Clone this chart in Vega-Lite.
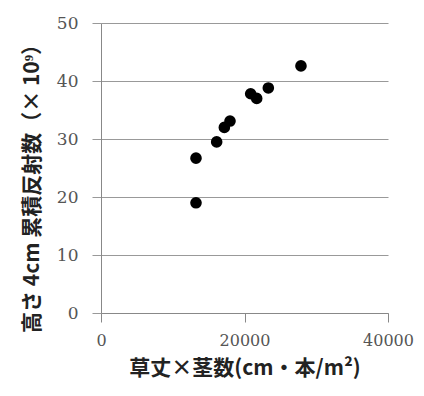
{
  "$schema": "https://vega.github.io/schema/vega-lite/v6.json",
  "width": 287,
  "height": 290,
  "autosize": {"type": "none"},
  "padding": {"left": 101, "top": 23, "right": 36, "bottom": 83},
  "background": "white",
  "config": {"view": {"stroke": null}},
  "data": {
    "values": [
      {"x": 13240, "y": 19.0},
      {"x": 13240, "y": 26.7},
      {"x": 16120, "y": 29.5},
      {"x": 17190, "y": 32.0},
      {"x": 17980, "y": 33.1},
      {"x": 20860, "y": 37.8},
      {"x": 21700, "y": 37.0},
      {"x": 23320, "y": 38.8},
      {"x": 27870, "y": 42.6}
    ]
  },
  "mark": {"type": "point", "filled": true, "color": "black", "opacity": 1, "size": 135},
  "encoding": {
    "x": {
      "field": "x", "type": "quantitative",
      "scale": {"domain": [0, 40000], "nice": false},
      "axis": {
        "values": [0, 20000, 40000], "grid": false, "format": "d",
        "title": "草丈×茎数(cm・本/m²)",
        "titleFont": "Noto Sans CJK JP", "titleFontSize": 21, "titleFontWeight": "bold", "titleColor": "#222",
        "titlePadding": 9,
        "labelFont": "DejaVu Serif", "labelFontSize": 16, "labelColor": "#555", "labelPadding": 10,
        "labelFlush": false,
        "domainColor": "#888", "tickColor": "#888", "tickSize": 9
      }
    },
    "y": {
      "field": "y", "type": "quantitative",
      "scale": {"domain": [0, 50], "nice": false},
      "axis": {
        "values": [0, 10, 20, 30, 40, 50], "grid": true, "gridColor": "#999",
        "title": "高さ 4cm 累積反射数（× 10⁹）",
        "titleFont": "Noto Sans CJK JP", "titleFontSize": 21, "titleFontWeight": "bold", "titleColor": "#222",
        "titlePadding": 14, "titleY": 160,
        "labelFont": "DejaVu Serif", "labelFontSize": 17, "labelColor": "#555", "labelPadding": 14,
        "domainColor": "#888", "tickColor": "#999", "tickSize": 9
      }
    }
  }
}
